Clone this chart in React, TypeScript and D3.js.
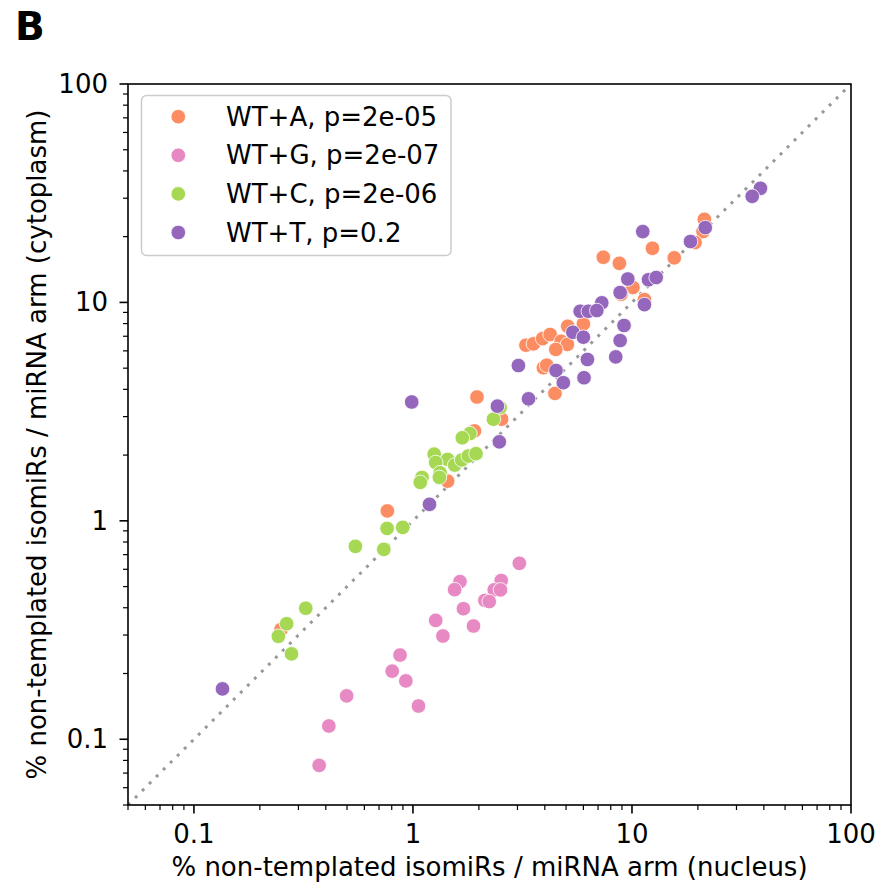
import React from "react";
import * as d3 from "d3";

// ---- data ----
const seriesNames = ["WT+A, p=2e-05", "WT+G, p=2e-07", "WT+C, p=2e-06", "WT+T, p=0.2"];
const seriesColors = ["#fc8d62", "#e78ac3", "#a6d854", "#9467bd"];

const wtA_nucleus = [21.4, 21.1, 19.4, 12.4, 15.6, 7.4, 8.76, 10.1, 8.92, 11.4, 6.0, 5.09, 3.28, 3.55, 3.91, 4.23, 4.75, 5.07, 4.49, 3.94, 4.08, 4.45, 1.96, 2.54, 1.91, 1.44, 0.764, 0.25];
const wtA_cyto = [24.0, 21.1, 18.8, 17.7, 16.0, 16.1, 15.1, 11.7, 10.9, 10.3, 7.97, 7.78, 6.37, 6.46, 6.83, 7.13, 6.64, 6.42, 6.09, 5.02, 5.16, 3.83, 3.69, 2.92, 2.58, 1.52, 1.11, 0.318];

const wtG_nucleus = [3.06, 1.64, 1.55, 2.53, 2.35, 2.51, 2.13, 2.23, 1.7, 1.27, 1.89, 1.37, 0.873, 0.804, 0.928, 0.498, 1.06, 0.413, 0.373];
const wtG_cyto = [0.639, 0.527, 0.484, 0.533, 0.483, 0.483, 0.432, 0.427, 0.396, 0.35, 0.33, 0.297, 0.243, 0.205, 0.185, 0.158, 0.142, 0.115, 0.0759];

const wtC_nucleus = [2.5, 2.33, 1.82, 1.68, 1.25, 1.44, 1.27, 1.55, 1.67, 1.79, 1.94, 1.33, 1.32, 1.1, 1.08, 0.762, 0.898, 0.546, 0.736, 0.324, 0.265, 0.243, 0.279];
const wtC_cyto = [3.3, 2.92, 2.51, 2.4, 2.02, 1.91, 1.85, 1.8, 1.9, 1.98, 2.03, 1.66, 1.58, 1.58, 1.5, 0.923, 0.933, 0.764, 0.74, 0.398, 0.338, 0.296, 0.246];

const wtT_nucleus = [38.6, 35.4, 21.6, 18.5, 11.2, 9.57, 11.9, 12.9, 8.83, 11.4, 7.28, 5.8, 6.32, 6.91, 5.37, 6.0, 9.2, 8.83, 8.43, 6.26, 6.04, 3.03, 4.5, 4.86, 3.37, 2.43, 0.987, 2.48, 1.19, 0.135];
const wtT_cyto = [33.3, 30.6, 22.0, 19.0, 21.1, 12.8, 12.7, 13.0, 11.1, 9.77, 9.96, 9.11, 9.11, 9.18, 7.3, 6.93, 7.84, 6.69, 5.63, 5.48, 4.52, 5.14, 4.88, 4.29, 3.62, 3.35, 3.5, 2.3, 1.19, 0.17];

const majorTicks = [0.1, 1, 10, 100];
const majorTickLabels = ["0.1", "1", "10", "100"];
const axisDomain = [0.05, 100];
const xLabel = "% non-templated isomiRs / miRNA arm (nucleus)";
const yLabel = "% non-templated isomiRs / miRNA arm (cytoplasm)";
const panelLabel = "B";

const seriesX = [wtA_nucleus, wtG_nucleus, wtC_nucleus, wtT_nucleus];
const seriesY = [wtA_cyto, wtG_cyto, wtC_cyto, wtT_cyto];

export default function App() {
  const W = 896, H = 888;
  const L = 128, R = 851, T = 84, B = 805;
  const font = "'DejaVu Sans', sans-serif";
  const fs = 26;
  const x = d3.scaleLog().domain(axisDomain).range([L, R]);
  const y = d3.scaleLog().domain(axisDomain).range([B, T]);

  const minor: number[] = [];
  for (let e = -2; e <= 1; e++) {
    for (let m = 2; m <= 9; m++) {
      const v = m * Math.pow(10, e);
      if (v >= axisDomain[0] && v <= axisDomain[1]) minor.push(v);
    }
  }

  const line = d3.line<number>().x((v) => x(v)).y((v) => y(v));

  return (
    <svg width={W} height={H} style={{ position: "absolute", left: 0, top: 0 }} fontFamily={font}>
      <rect x={0} y={0} width={W} height={H} fill="#fff" />
      <text x={15} y={40} fontSize={39} fontWeight="bold">{panelLabel}</text>

      <defs>
        <clipPath id="plotclip">
          <rect x={L} y={T} width={R - L} height={B - T} />
        </clipPath>
      </defs>

      {/* diagonal */}
      <path d={line(axisDomain) || ""} stroke="#999" strokeWidth={3} strokeDasharray="3,6.9" fill="none" clipPath="url(#plotclip)" />

      {/* points */}
      <g clipPath="url(#plotclip)">
        {seriesX.map((xs, si) => (
          <g key={si}>
            {xs.map((xv, i) => (
              <circle key={i} cx={x(xv)} cy={y(seriesY[si][i])} r={7.3} fill={seriesColors[si]} stroke="#fff" strokeWidth={0.8} />
            ))}
          </g>
        ))}
      </g>

      {/* frame */}
      <rect x={L} y={T} width={R - L} height={B - T} fill="none" stroke="#000" strokeWidth={1.6} />

      {/* x ticks */}
      {minor.map((v, i) => (
        <line key={"xm" + i} x1={x(v)} x2={x(v)} y1={B} y2={B + 5} stroke="#000" strokeWidth={1.2} />
      ))}
      {majorTicks.map((v, i) => (
        <g key={"xM" + i}>
          <line x1={x(v)} x2={x(v)} y1={B} y2={B + 8.5} stroke="#000" strokeWidth={1.6} />
          <text x={x(v)} y={843} fontSize={fs} textAnchor="middle">{majorTickLabels[i]}</text>
        </g>
      ))}
      {/* y ticks */}
      {minor.map((v, i) => (
        <line key={"ym" + i} x1={L - 5} x2={L} y1={y(v)} y2={y(v)} stroke="#000" strokeWidth={1.2} />
      ))}
      {majorTicks.map((v, i) => (
        <g key={"yM" + i}>
          <line x1={L - 8.5} x2={L} y1={y(v)} y2={y(v)} stroke="#000" strokeWidth={1.6} />
          <text x={108} y={y(v)} fontSize={fs} textAnchor="end" dominantBaseline="central">{majorTickLabels[i]}</text>
        </g>
      ))}

      <text x={(L + R) / 2} y={876} fontSize={fs} textAnchor="middle">{xLabel}</text>
      <text transform={`translate(37,${(T + B) / 2}) rotate(-90)`} fontSize={fs} textAnchor="middle" dominantBaseline="central">{yLabel}</text>

      {/* legend */}
      <rect x={141.5} y={95.5} width={309.5} height={160} rx={5} fill="#fff" fillOpacity={0.8} stroke="#ccc" strokeWidth={1.5} />
      {seriesNames.map((name, i) => (
        <g key={"lg" + i}>
          <circle cx={178.3} cy={116.7 + i * 38.6} r={7.3} fill={seriesColors[i]} stroke="#fff" strokeWidth={0.8} />
          <text x={226} y={116.7 + i * 38.6} fontSize={fs} dominantBaseline="central">{name}</text>
        </g>
      ))}
    </svg>
  );
}
